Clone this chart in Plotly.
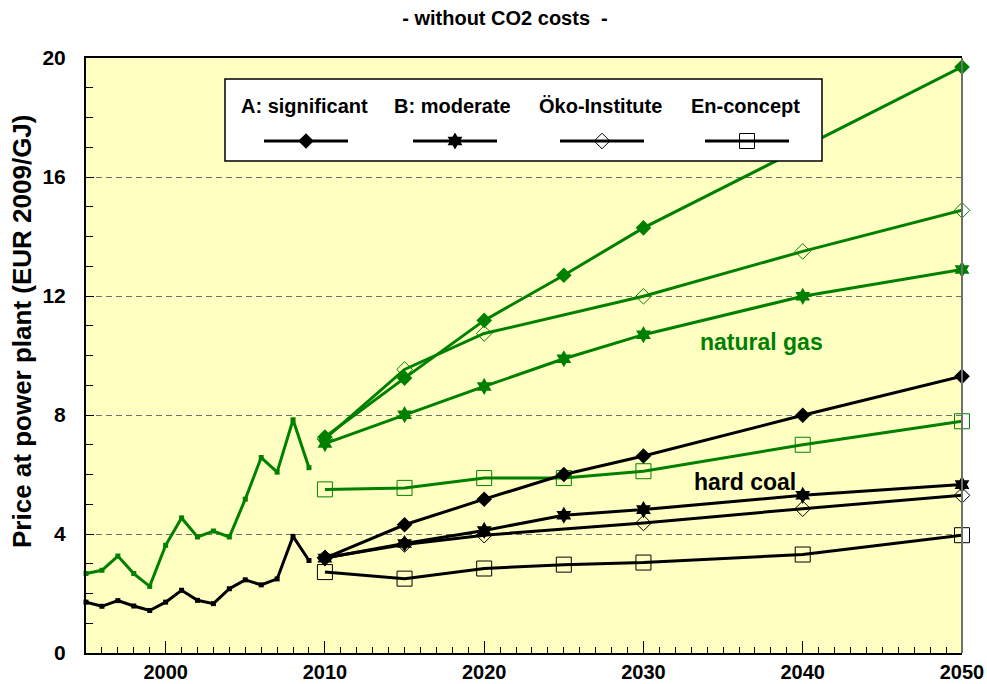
import plotly.graph_objects as go

# ── data ──────────────────────────────────────────────
hist_years = list(range(1995, 2010))
gas_hist = [2.67, 2.78, 3.26, 2.67, 2.24, 3.62, 4.54, 3.90, 4.10, 3.90, 5.17, 6.57, 6.08, 7.84, 6.23]
coal_hist = [1.71, 1.57, 1.76, 1.58, 1.43, 1.71, 2.11, 1.77, 1.66, 2.16, 2.46, 2.29, 2.49, 3.92, 3.11]

proj_years = [2010, 2015, 2020, 2025, 2030, 2040, 2050]
gas_a = [7.26, 9.24, 11.18, 12.70, 14.29, 17.00, 19.70]
gas_b = [7.04, 8.01, 8.96, 9.89, 10.70, 11.99, 12.89]
gas_oeko = [7.20, 9.53, 10.74, None, 11.99, 13.50, 14.88]
gas_en = [5.50, 5.55, 5.88, 5.88, 6.11, 7.00, 7.79]

coal_a = [3.19, 4.31, 5.17, 6.00, 6.62, 7.99, 9.30]
coal_b = [3.19, 3.68, 4.12, 4.63, 4.82, 5.30, 5.66]
coal_oeko = [3.20, 3.65, 3.96, None, 4.37, 4.85, 5.30]
coal_en = [2.72, 2.50, 2.84, 2.97, 3.04, 3.31, 3.96]

scenario_names = ["A: significant", "B: moderate", "Öko-Institute", "En-concept"]

# ── style ─────────────────────────────────────────────
GREEN = "#008000"
BLACK = "#000000"
BG = "#FFFFC2"
FONT = "Liberation Sans, Arial, sans-serif"

W, H = 987, 684
L, R, T, B = 86, 25, 58, 31
PW, PH = W - L - R, H - T - B


def px_x(p):
    return (p - L) / PW


def px_y(p):
    return (H - B - p) / PH


symbols = {
    "A: significant": dict(symbol="diamond", size=12),
    "B: moderate": dict(symbol="hexagram", size=13),
    "Öko-Institute": dict(symbol="diamond-open", size=12, line=dict(width=1)),
    "En-concept": dict(symbol="square-open", size=15, line=dict(width=1)),
}

fig = go.Figure()

# historical
for ys, col in [(gas_hist, GREEN), (coal_hist, BLACK)]:
    fig.add_trace(go.Scatter(
        x=hist_years, y=ys, mode="lines+markers",
        line=dict(color=col, width=3),
        marker=dict(symbol="square", size=5, color=col),
        showlegend=False, cliponaxis=False, hoverinfo="skip",
    ))

# projections
series = [
    (gas_en, GREEN, "En-concept"), (gas_oeko, GREEN, "Öko-Institute"),
    (gas_b, GREEN, "B: moderate"), (gas_a, GREEN, "A: significant"),
    (coal_en, BLACK, "En-concept"), (coal_oeko, BLACK, "Öko-Institute"),
    (coal_b, BLACK, "B: moderate"), (coal_a, BLACK, "A: significant"),
]
for ys, col, name in series:
    m = dict(symbols[name])
    m["color"] = col
    if "line" in m:
        m["line"] = dict(width=1, color=col)
    fig.add_trace(go.Scatter(
        x=proj_years, y=ys, mode="lines+markers", connectgaps=True,
        line=dict(color=col, width=3), marker=m,
        showlegend=False, cliponaxis=False, name=name,
    ))

# legend samples (one small legend per scenario)
sample_x = [307, 456, 603, 748]
for i, name in enumerate(scenario_names):
    key = "legend" if i == 0 else f"legend{i + 1}"
    m = dict(symbols[name])
    m["color"] = BLACK
    if "line" in m:
        m["line"] = dict(width=1, color=BLACK)
    fig.add_trace(go.Scatter(
        x=[None], y=[None], mode="lines+markers", name="",
        line=dict(color=BLACK, width=3), marker=m,
        showlegend=True, legend=key,
    ))
    fig.update_layout({key: dict(
        x=px_x(sample_x[i] - 48), y=px_y(141), xanchor="left", yanchor="middle",
        bgcolor="rgba(0,0,0,0)", borderwidth=0, itemwidth=84,
        font=dict(size=2), orientation="h",
    )})

# legend box + texts
fig.add_shape(type="rect", xref="paper", yref="paper",
              x0=px_x(225), x1=px_x(822), y0=px_y(161), y1=px_y(79),
              fillcolor="white", line=dict(color=BLACK, width=1.5), layer="above")
text_x = [304, 452, 600, 745]
for tx, name in zip(text_x, scenario_names):
    fig.add_annotation(x=px_x(tx), y=px_y(106), xref="paper", yref="paper",
                       xanchor="center", yanchor="middle",
                       text=f"<b>{name}</b>", showarrow=False,
                       font=dict(size=20, color=BLACK, family=FONT))

# right border (grey)
fig.add_shape(type="line", xref="x domain", yref="y domain",
              x0=1, x1=1, y0=0, y1=1, line=dict(color="#707070", width=2), layer="above")

# labels
fig.add_annotation(x=2037.4, y=10.44, text="<b>natural gas</b>", showarrow=False,
                   xanchor="center", yanchor="middle",
                   font=dict(size=23, color=GREEN, family=FONT))
fig.add_annotation(x=2036.4, y=5.74, text="<b>hard coal</b>", showarrow=False,
                   xanchor="center", yanchor="middle",
                   font=dict(size=23, color=BLACK, family=FONT))
fig.add_annotation(x=px_x(22), y=px_y(332), xref="paper", yref="paper",
                   xanchor="center", yanchor="middle",
                   text="<b>Price at power plant (EUR 2009/GJ)</b>", textangle=-90,
                   showarrow=False, font=dict(size=26, color=BLACK, family=FONT))

fig.update_layout(
    width=W, height=H,
    margin=dict(l=L, r=R, t=T, b=B),
    paper_bgcolor="white", plot_bgcolor=BG,
    font=dict(family=FONT, color=BLACK),
    title=dict(text="<b>- without CO2 costs  -</b>", x=505 / W, xanchor="center",
               y=1 - 18 / H, yanchor="middle", font=dict(size=20, color=BLACK)),
    xaxis=dict(
        range=[1995, 2050], tickmode="linear", tick0=2000, dtick=10,
        ticks="inside", ticklen=12, tickwidth=1, tickcolor=BLACK,
        minor=dict(dtick=1, tick0=1995, ticks="inside", ticklen=6, tickcolor=BLACK),
        showgrid=False, zeroline=False, automargin=False,
        showline=True, linecolor=BLACK, linewidth=2, mirror=True,
        tickfont=dict(size=20, color=BLACK, family=FONT, weight="bold"),
    ),
    yaxis=dict(
        range=[0, 20], tickmode="linear", tick0=0, dtick=4,
        ticks="inside", ticklen=8, tickcolor=BLACK,
        minor=dict(dtick=1, ticks="inside", ticklen=7, tickcolor=BLACK, showgrid=False),
        showgrid=True, gridcolor="#707070", gridwidth=1, griddash="6px,4px",
        zeroline=False, showline=True, linecolor=BLACK, linewidth=2,
        ticklabelstandoff=14, automargin=False,
        tickfont=dict(size=21, color=BLACK, family=FONT, weight="bold"),
    ),
)

# page has a default 8px body margin; drop it so the figure sits at the top-left
fig.write_html("out.html", config={"displayModeBar": False},
               post_script="document.body.style.margin='0px';")
